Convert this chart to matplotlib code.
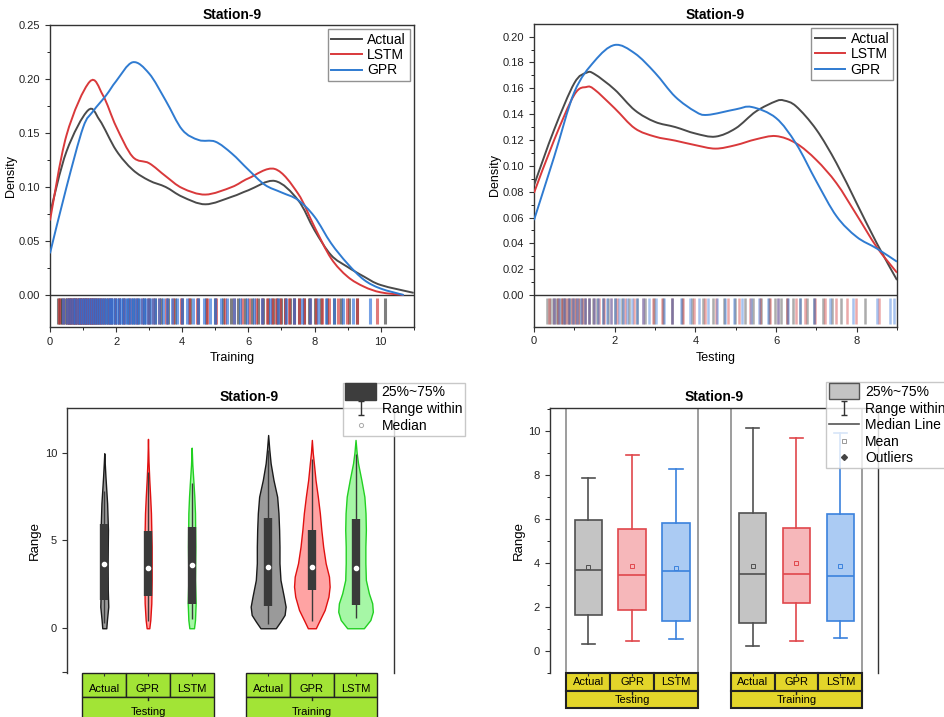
import matplotlib
matplotlib.use('Agg')
import matplotlib.pyplot as plt
from matplotlib.path import Path
from matplotlib.patches import PathPatch, Rectangle, Patch
from matplotlib.lines import Line2D
from matplotlib.legend_handler import HandlerPatch
from matplotlib.ticker import FixedLocator, FormatStrFormatter
from matplotlib.transforms import blended_transform_factory

plt.rcParams['font.family'] = ['Liberation Sans', 'DejaVu Sans']

# ===== density curves =====
act_train_x = [0, 0.5, 1.15, 1.5, 2, 2.5, 3, 3.5, 4, 4.7, 5.5, 6, 6.8, 7.5, 8, 8.5, 9, 9.5, 10, 11]
act_train_y = [0.0756, 0.133, 0.171, 0.162, 0.134, 0.116, 0.106, 0.100, 0.091, 0.084, 0.091, 0.097,
               0.1056, 0.088, 0.060, 0.037, 0.026, 0.017, 0.0093, 0.002]
lstm_train_x = [0, 0.5, 1.2, 1.6, 2, 2.5, 3, 3.5, 4, 4.7, 5.5, 6, 6.8, 7.5, 8, 8.5, 9, 9.5, 10, 10.7]
lstm_train_y = [0.069, 0.148, 0.1975, 0.185, 0.156, 0.128, 0.122, 0.110, 0.099, 0.093, 0.100, 0.108,
                0.1167, 0.094, 0.063, 0.034, 0.017, 0.0077, 0.0025, 0.0]
gpr_train_x = [0, 0.5, 1, 1.3, 1.7, 2, 2.5, 3, 3.5, 4, 4.5, 5, 5.5, 6, 6.5, 7, 7.5, 8, 8.5, 9, 9.5, 10, 10.7]
gpr_train_y = [0.0386, 0.10, 0.155, 0.17, 0.185, 0.198, 0.2155, 0.205, 0.18, 0.153, 0.1435, 0.142, 0.131,
               0.116, 0.102, 0.095, 0.088, 0.0725, 0.048, 0.029, 0.014, 0.006, 0.0]

act_test_x = [0, 0.5, 1, 1.3, 1.5, 2, 2.5, 3, 3.5, 4, 4.5, 5, 5.5, 6, 6.2, 6.5, 7, 7.5, 8, 8.5, 9]
act_test_y = [0.085, 0.128, 0.164, 0.172, 0.171, 0.159, 0.143, 0.134, 0.130, 0.125, 0.1226, 0.129, 0.142,
              0.150, 0.1505, 0.146, 0.128, 0.102, 0.071, 0.040, 0.0116]
lstm_test_x = [0, 0.5, 1, 1.3, 1.5, 2, 2.5, 3, 3.5, 4, 4.5, 5, 5.5, 6, 6.5, 7, 7.5, 8, 8.5, 9]
lstm_test_y = [0.079, 0.12, 0.155, 0.161, 0.159, 0.1445, 0.129, 0.1226, 0.1195, 0.116, 0.1133, 0.116,
               0.1205, 0.123, 0.1174, 0.1045, 0.0865, 0.062, 0.037, 0.0173]
gpr_test_x = [0, 0.5, 1, 1.5, 2, 2.5, 3, 3.5, 4, 4.3, 5, 5.4, 6, 6.5, 7, 7.5, 8, 8.5, 9]
gpr_test_y = [0.058, 0.107, 0.157, 0.181, 0.1935, 0.187, 0.172, 0.1535, 0.142, 0.1394, 0.1437, 0.1455,
              0.137, 0.117, 0.088, 0.061, 0.045, 0.036, 0.0258]

# ===== rug samples (approximate) =====
act_train_rug = [0.24, 0.3, 0.37, 0.44, 0.5, 0.56, 0.62, 0.67, 0.72, 0.77, 0.82, 0.87, 0.92, 0.97, 1.02,
                 1.07, 1.12, 1.17, 1.23, 1.29, 1.35, 1.42, 1.49, 1.57, 1.66, 1.75, 1.85, 1.96, 2.08, 2.21,
                 2.35, 2.5, 2.66, 2.83, 3.0, 3.18, 3.37, 3.57, 3.78, 4.0, 4.23, 4.47, 4.72, 4.98, 5.23,
                 5.47, 5.7, 5.91, 6.1, 6.28, 6.44, 6.59, 6.73, 6.86, 6.99, 7.12, 7.25, 7.39, 7.53, 7.68,
                 7.84, 8.01, 8.19, 8.38, 8.58, 8.8, 9.03, 9.28, 10.12]
lstm_train_rug = [0.28, 0.4, 0.5, 0.58, 0.65, 0.71, 0.77, 0.83, 0.88, 0.93, 0.98, 1.03, 1.08, 1.13, 1.18,
                  1.23, 1.28, 1.34, 1.4, 1.47, 1.55, 1.64, 1.74, 1.85, 1.97, 2.1, 2.25, 2.42, 2.6, 2.78,
                  2.95, 3.12, 3.3, 3.5, 3.72, 3.95, 4.2, 4.46, 4.74, 5.02, 5.3, 5.56, 5.8, 6.02, 6.22,
                  6.4, 6.56, 6.7, 6.84, 6.97, 7.1, 7.23, 7.37, 7.52, 7.68, 7.85, 8.03, 8.23, 8.45, 8.7,
                  8.98, 9.3, 9.9]
gpr_train_rug = [0.4, 0.52, 0.62, 0.7, 0.77, 0.84, 0.9, 0.96, 1.02, 1.08, 1.14, 1.2, 1.26, 1.32, 1.38,
                 1.44, 1.5, 1.56, 1.62, 1.68, 1.74, 1.8, 1.86, 1.92, 1.98, 2.04, 2.1, 2.16, 2.22, 2.28,
                 2.34, 2.4, 2.46, 2.52, 2.58, 2.64, 2.7, 2.77, 2.84, 2.91, 2.99, 3.08, 3.18, 3.29, 3.41,
                 3.54, 3.68, 3.83, 3.99, 4.15, 4.32, 4.49, 4.66, 4.83, 5.0, 5.18, 5.36, 5.55, 5.75, 5.96,
                 6.18, 6.42, 6.66, 6.9, 7.14, 7.38, 7.62, 7.86, 8.1, 8.35, 8.6, 8.87, 9.15, 9.68]
act_test_rug = [0.32, 0.4, 0.47, 0.54, 0.6, 0.66, 0.72, 0.78, 0.84, 0.9, 0.97, 1.04, 1.11, 1.19, 1.27,
                1.36, 1.46, 1.57, 1.7, 1.84, 2.0, 2.17, 2.35, 2.55, 2.76, 2.98, 3.2, 3.43, 3.67, 3.92,
                4.18, 4.45, 4.72, 4.98, 5.22, 5.44, 5.64, 5.82, 5.98, 6.13, 6.28, 6.43, 6.59, 6.76,
                6.95, 7.16, 7.4, 7.62, 8.2]
lstm_test_rug = [0.38, 0.5, 0.6, 0.69, 0.77, 0.85, 0.93, 1.01, 1.09, 1.18, 1.27, 1.37, 1.48, 1.6, 1.74,
                 1.9, 2.07, 2.26, 2.47, 2.7, 2.94, 3.18, 3.43, 3.69, 3.96, 4.24, 4.52, 4.8, 5.08, 5.35,
                 5.6, 5.84, 6.06, 6.28, 6.5, 6.73, 6.97, 7.22, 7.48, 7.75, 7.98, 8.55]
gpr_test_rug = [0.5, 0.63, 0.75, 0.86, 0.97, 1.07, 1.17, 1.27, 1.37, 1.48, 1.59, 1.7, 1.8, 1.9, 2.0,
                2.1, 2.2, 2.31, 2.43, 2.56, 2.7, 2.86, 3.03, 3.22, 3.43, 3.65, 3.88, 4.1, 4.32, 4.53,
                4.74, 4.95, 5.16, 5.37, 5.58, 5.8, 6.04, 6.3, 6.6, 6.95, 7.35, 7.9, 8.5, 8.82, 8.93]

# ===== box / violin statistics: Testing (Actual, GPR, LSTM), Training (Actual, GPR, LSTM) =====
group_names = ['Testing', 'Training']
model_names = ['Actual', 'GPR', 'LSTM']
q1 = [1.61, 1.83, 1.36, 1.26, 2.17, 1.33]
med = [3.68, 3.44, 3.61, 3.48, 3.47, 3.41]
q3 = [5.92, 5.53, 5.79, 6.26, 5.59, 6.23]
whislo = [0.32, 0.44, 0.52, 0.23, 0.44, 0.58]
whishi = [7.83, 8.89, 8.24, 10.12, 9.65, 9.9]
means = [3.80, 3.83, 3.77, 3.86, 3.97, 3.86]

# violin outline: levels and half widths
vio_y = [
    [0, 0.47, 1.23, 2.18, 3.7, 5.6, 7.11, 7.87, 8.63, 9.39, 9.96],
    [0, 0.47, 1.42, 2.75, 4.64, 6.55, 7.5, 8.44, 9.5, 10.78],
    [0, 0.47, 1.42, 2.75, 4.64, 6.55, 7.5, 8.25, 9.3, 10.28],
    [0, 0.38, 0.76, 1.23, 1.8, 2.75, 3.7, 4.64, 5.6, 6.55, 7.49, 8.44, 9.39, 10.2, 11.0],
    [0, 0.38, 1.04, 1.8, 2.37, 2.94, 3.7, 4.64, 5.6, 6.55, 7.49, 8.44, 9.39, 10.0, 10.72],
    [0, 0.47, 0.94, 1.42, 1.99, 2.75, 3.7, 4.64, 5.6, 6.55, 7.49, 8.44, 9.39, 10.0, 10.72],
]
vio_w = [
    [0.046, 0.061, 0.091, 0.08, 0.076, 0.084, 0.065, 0.046, 0.027, 0.011, 0.0],
    [0.03, 0.053, 0.076, 0.084, 0.084, 0.068, 0.05, 0.03, 0.012, 0.0],
    [0.053, 0.076, 0.091, 0.076, 0.084, 0.076, 0.06, 0.042, 0.015, 0.0],
    [0.175, 0.28, 0.377, 0.40, 0.358, 0.282, 0.259, 0.259, 0.251, 0.236, 0.206, 0.122, 0.057, 0.025, 0.0],
    [0.091, 0.164, 0.293, 0.38, 0.407, 0.392, 0.316, 0.259, 0.217, 0.183, 0.137, 0.084, 0.046, 0.02, 0.0],
    [0.19, 0.339, 0.396, 0.381, 0.305, 0.236, 0.225, 0.225, 0.236, 0.228, 0.202, 0.133, 0.057, 0.025, 0.0],
]

positions = [1, 2, 3, 4.75, 5.75, 6.75]

# ===== style =====
line_cols = {'Actual': '#4a4a4a', 'LSTM': '#d9393b', 'GPR': '#2f7bd1'}
rug_cols = {'Actual': '#3a3a3a', 'LSTM': '#d03434', 'GPR': '#2d6fd8'}
vio_face = ['#9a9a9a', '#ffa3a3', '#a6f7a6'] * 2
vio_edge = ['#1a1a1a', '#e01010', '#22d022'] * 2
box_face = ['#c4c4c4', '#f6b7ba', '#abcbf3'] * 2
box_edge = ['#505050', '#e0474c', '#3b82dd'] * 2
spine_col = '#333333'

W, H = 944, 717
fig = plt.figure(figsize=(W / 100, H / 100), dpi=100)


def px_axes(l, t, r, b):
    return fig.add_axes([l / W, 1 - b / H, (r - l) / W, (b - t) / H])


def smooth_line(ax, x, y, color):
    # Catmull-Rom curve through the read points, drawn as bezier path
    n = len(x)
    verts = [(x[0], y[0])]
    codes = [Path.MOVETO]
    for i in range(n - 1):
        i0, i2, i3 = max(i - 1, 0), i + 1, min(i + 2, n - 1)
        c1 = (x[i] + (x[i2] - x[i0]) / 6, y[i] + (y[i2] - y[i0]) / 6)
        c2 = (x[i2] - (x[i3] - x[i]) / 6, y[i2] - (y[i3] - y[i]) / 6)
        verts += [c1, c2, (x[i2], y[i2])]
        codes += [Path.CURVE4] * 3
    ax.add_patch(PathPatch(Path(verts, codes), fill=False, edgecolor=color, lw=1.4, zorder=3))


def style_spines(ax):
    for s in ax.spines.values():
        s.set_color(spine_col)
        s.set_linewidth(1.0)
    ax.tick_params(labelsize=8, colors=spine_col, labelcolor='#222')
    ax.tick_params(which='minor', length=2)


# ===== top panels: density + rug =====
def density_panel(ax, curves, rugs, xmax, ylim, ymajor, yminor, xlabel, rug_rng, rug_alpha, rug_lw):
    for name in ['Actual', 'LSTM', 'GPR']:
        vals = rugs[name]
        ax.vlines(vals, rug_rng[0], rug_rng[1], colors=rug_cols[name], lw=rug_lw, alpha=rug_alpha, zorder=1)
    for name in ['Actual', 'LSTM', 'GPR']:
        smooth_line(ax, curves[name][0], curves[name][1], line_cols[name])
    ax.axhline(0, color=spine_col, lw=1.0, zorder=2)
    ax.set_xlim(0, xmax)
    ax.set_ylim(*ylim)
    ax.set_xticks(range(0, int(xmax) + 1, 2))
    ax.xaxis.set_minor_locator(FixedLocator(range(1, int(xmax) + 1, 2)))
    ax.set_yticks(ymajor)
    ax.yaxis.set_minor_locator(FixedLocator(yminor))
    ax.yaxis.set_major_formatter(FormatStrFormatter('%.2f'))
    ax.set_xlabel(xlabel, fontsize=9)
    ax.set_ylabel('Density', fontsize=9, labelpad=1)
    ax.set_title('Station-9', fontsize=10, fontweight='bold', pad=4)
    style_spines(ax)
    handles = [Line2D([], [], color=line_cols[n], lw=1.4) for n in ['Actual', 'LSTM', 'GPR']]
    leg = ax.legend(handles, ['Actual', 'LSTM', 'GPR'], loc='upper right', fontsize=10,
                    fancybox=False, edgecolor='#777777', borderaxespad=0.3, handlelength=2.2,
                    labelspacing=0.1, borderpad=0.25, handletextpad=0.4)
    leg.get_frame().set_linewidth(1.0)


ax0 = px_axes(50, 25, 413.7, 327)
density_panel(ax0,
              {'Actual': (act_train_x, act_train_y), 'LSTM': (lstm_train_x, lstm_train_y),
               'GPR': (gpr_train_x, gpr_train_y)},
              {'Actual': act_train_rug, 'LSTM': lstm_train_rug, 'GPR': gpr_train_rug},
              11, (-0.0296, 0.25), [0, 0.05, 0.10, 0.15, 0.20, 0.25],
              [0.025, 0.075, 0.125, 0.175, 0.225], 'Training', (-0.027, -0.0025), 0.65, 2.2)

ax1 = px_axes(534, 24.3, 897, 326.7)
density_panel(ax1,
              {'Actual': (act_test_x, act_test_y), 'LSTM': (lstm_test_x, lstm_test_y),
               'GPR': (gpr_test_x, gpr_test_y)},
              {'Actual': act_test_rug, 'LSTM': lstm_test_rug, 'GPR': gpr_test_rug},
              9, (-0.0245, 0.2095), [0.02 * i for i in range(11)],
              [0.01 + 0.02 * i for i in range(10)], 'Testing', (-0.0225, -0.002), 0.42, 1.8)


# ===== category table under the bottom panels =====
def category_table(ax, h1, h2, color, text_y, lw, name_frac):
    trans = blended_transform_factory(ax.transData, ax.transAxes)
    ax_h = ax.get_position().height * H
    r1, r2 = h1 / ax_h, h2 / ax_h
    for gi, gname in enumerate(group_names):
        gpos = positions[gi * 3:(gi + 1) * 3]
        for p, mname in zip(gpos, model_names):
            ax.add_patch(Rectangle((p - 0.5, -r1), 1, r1, transform=trans, clip_on=False,
                                   facecolor=color, edgecolor='#222', lw=lw))
            ax.text(p, -r1 * name_frac, mname, transform=trans, ha='center', va='center', fontsize=8)
        ax.add_patch(Rectangle((gpos[0] - 0.5, -r1 - r2), 3, r2, transform=trans, clip_on=False,
                               facecolor=color, edgecolor='#222', lw=lw))
        ax.plot([gpos[1], gpos[1]], [-r1, -r1 - 3 / ax_h], transform=trans, clip_on=False,
                color='#222', lw=1)
        ax.text(gpos[1], -text_y / ax_h, gname, transform=trans, ha='center', va='center', fontsize=8)


def bottom_axes_style(ax, xlim, ylim):
    ax.set_xlim(*xlim)
    ax.set_ylim(*ylim)
    ax.spines['bottom'].set_visible(False)
    ax.set_xticks(positions)
    ax.set_xticklabels([])
    ax.tick_params(axis='x', length=2.5, direction='out')
    style_spines(ax)


# violin panel
ax2 = px_axes(66.7, 408.3, 394, 672.7)
for i, p in enumerate(positions):
    ys, ws = vio_y[i], vio_w[i]
    ax2.fill_betweenx(ys, [p - w for w in ws], [p + w for w in ws], facecolor=vio_face[i],
                      edgecolor=vio_edge[i], lw=1.0, zorder=2)
    ax2.vlines(p, whislo[i], whishi[i], color='#3a3a3a', lw=1.0, zorder=3)
    ax2.vlines(p, q1[i], q3[i], color='#3a3a3a', lw=6, zorder=4)
    ax2.plot(p, med[i], 'o', ms=3, mfc='white', mec='white', zorder=5)
bottom_axes_style(ax2, (0.14, 7.63), (-2.53, 12.52))
ax2.set_yticks([-2.5, 0, 5, 10])
ax2.set_yticklabels(['', '0', '5', '10'])
ax2.set_ylabel('Range', fontsize=9.5, labelpad=3)
ax2.set_title('Station-9', fontsize=10, fontweight='bold', pad=5, x=0.557)
category_table(ax2, 24, 40, '#a2e436', 39, 1.0, 0.68)

# box panel
ax3 = px_axes(549.7, 408.3, 878, 672.7)
stats = [dict(med=med[i], q1=q1[i], q3=q3[i], whislo=whislo[i], whishi=whishi[i], mean=means[i],
              fliers=[]) for i in range(6)]
bp = ax3.bxp(stats, positions=positions, widths=0.63, capwidths=0.3, showmeans=True,
             patch_artist=True, manage_ticks=False)
for i in range(6):
    bp['boxes'][i].set(facecolor=box_face[i], edgecolor=box_edge[i], lw=1.2)
    bp['medians'][i].set(color=box_edge[i], lw=1.2)
    bp['means'][i].set(marker='s', ms=3, mfc='none', mec=box_edge[i], mew=0.7)
    for art in bp['whiskers'][2 * i:2 * i + 2] + bp['caps'][2 * i:2 * i + 2]:
        art.set(color=box_edge[i], lw=1.2)
trans3 = blended_transform_factory(ax3.transData, ax3.transAxes)
for xg in [0.5, 3.5, 4.25, 7.25]:
    ax3.plot([xg, xg], [0, 1], transform=trans3, color='#8c8c8c', lw=1.2, zorder=1)
bottom_axes_style(ax3, (0.118, 7.61), (-1.0, 11.02))
ax3.set_yticks(range(0, 11, 2))
ax3.yaxis.set_minor_locator(FixedLocator([-1, 1, 3, 5, 7, 9, 11]))
ax3.set_ylabel('Range', fontsize=9.5, labelpad=2)
ax3.set_title('Station-9', fontsize=10, fontweight='bold', pad=5)
category_table(ax3, 18, 17.6, '#e3d52a', 27, 1.5, 0.5)

# ===== legends for the bottom panels =====
ibeam = Path([(-0.5, 1), (0.5, 1), (0, 1), (0, -1), (-0.5, -1), (0.5, -1)],
             [Path.MOVETO, Path.LINETO, Path.MOVETO, Path.LINETO, Path.MOVETO, Path.LINETO])


def tall_rect(legend, orig_handle, xdescent, ydescent, width, height, fontsize):
    return Rectangle((-xdescent, -ydescent - 0.35 * height), width, height * 1.7)


range_h = Line2D([], [], ls='none', marker=ibeam, ms=9.5, color='#333', mew=1.0)

vio_box_h = Patch(facecolor='#3d3d3d', edgecolor='#3d3d3d')
med_h = Line2D([], [], ls='none', marker='o', ms=3, mfc='white', mec='#aaaaaa', mew=0.7)
leg2 = fig.legend([vio_box_h, range_h, med_h], ['25%~75%', 'Range within', 'Median'],
                  loc='upper left', bbox_to_anchor=(342.7 / W, 1 - 382.7 / H), fontsize=10,
                  fancybox=False, edgecolor='#bbbbbb', handlelength=2.2, labelspacing=0.2,
                  borderpad=0.2, handletextpad=0.4, borderaxespad=0,
                  handler_map={vio_box_h: HandlerPatch(patch_func=tall_rect)})
leg2.set_zorder(10)

box_h = Patch(facecolor='#c4c4c4', edgecolor='#555555')
medline_h = Line2D([], [], color='#555555', lw=1.2)
mean_h = Line2D([], [], ls='none', marker='s', ms=3, mfc='none', mec='#999999', mew=0.7)
out_h = Line2D([], [], ls='none', marker='D', ms=3, color='#444444')
leg3 = fig.legend([box_h, range_h, medline_h, mean_h, out_h],
                  ['25%~75%', 'Range within', 'Median Line', 'Mean', 'Outliers'],
                  loc='upper left', bbox_to_anchor=(826 / W, 1 - 382.3 / H), fontsize=10,
                  fancybox=False, edgecolor='#bbbbbb', handlelength=2.2, labelspacing=0.18,
                  borderpad=0.2, handletextpad=0.4, borderaxespad=0,
                  handler_map={box_h: HandlerPatch(patch_func=tall_rect)})
leg3.set_zorder(10)

plt.savefig('out.png', dpi=100)
plt.close()
